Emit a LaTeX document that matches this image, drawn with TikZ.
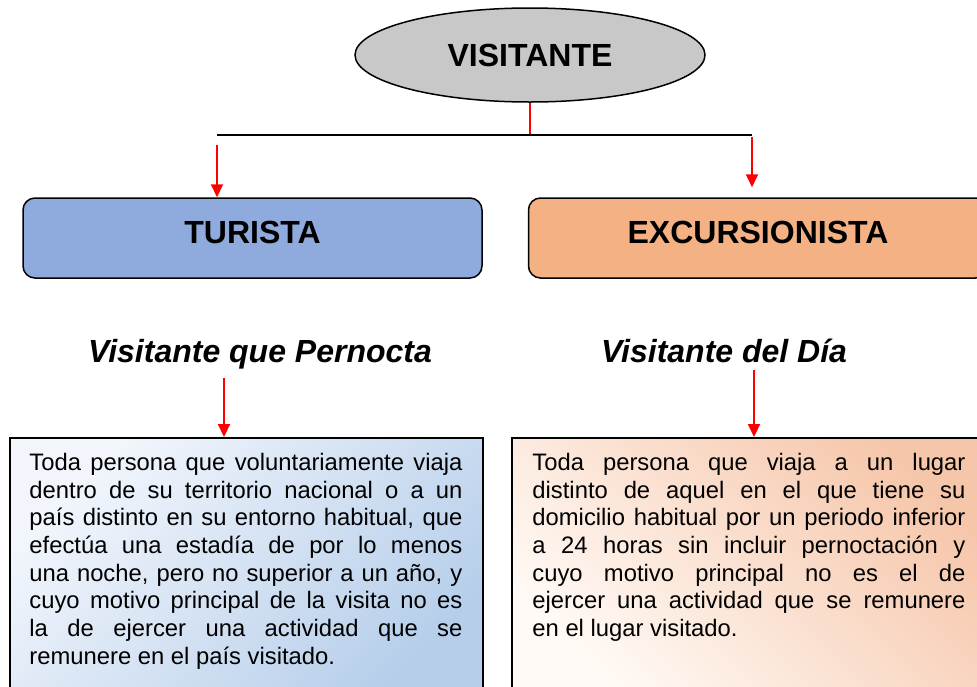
\documentclass[tikz,border=0pt]{standalone}
\usepackage{fontspec}
\setmainfont{Liberation Sans}
\usetikzlibrary{arrows.meta,shapes.geometric}
\definecolor{visgray}{RGB}{200,200,200}
\definecolor{turblue}{RGB}{143,170,220}
\definecolor{excorange}{RGB}{244,177,131}
\definecolor{turlight}{RGB}{242,246,252}
\definecolor{turdark}{RGB}{182,206,234}
\definecolor{exclight}{RGB}{255,250,246}
\definecolor{excdark}{RGB}{246,198,170}

\begin{document}
\begin{tikzpicture}[x=1pt,y=-1pt]
    \tikzstyle{title} = [font=\fontsize{32}{36}\selectfont\bfseries]
    \tikzstyle{subtitle} = [font=\fontsize{32}{36}\selectfont\bfseries\itshape, anchor=base]
    \tikzstyle{category} = [rectangle, rounded corners=12pt, draw, line width=1.5pt, minimum width=459pt, minimum height=80pt, text depth=12pt, title]
    \tikzstyle{descbox} = [rectangle, draw, line width=1.5pt, minimum height=262pt, anchor=north]
    \tikzstyle{desctext} = [text width=433pt, align=justify, inner sep=0pt, anchor=north west, font=\fontsize{23.8}{27.7}\selectfont]
    \tikzstyle{link} = [line width=2pt, red]
    \tikzstyle{arrow} = [link, -{Triangle[width=12pt,length=13pt]}]

    \useasboundingbox (0,0) rectangle (977,686);
    \clip (0,0) rectangle (977,686);

    \node[ellipse, draw, line width=1.5pt, fill=visgray, minimum width=350pt, minimum height=94pt, title] (visitante) at (530,55) {VISITANTE};

    \node[category, fill=turblue] (turista) at (252.5,238) {TURISTA};
    \node[category, fill=excorange, right of=turista, node distance=505.5pt] (excursionista) {EXCURSIONISTA};

    \node[subtitle] (pernocta) at (260,362) {Visitante que Pernocta};
    \node[subtitle] (dia) at (724,362) {Visitante del Día};

    \node[descbox, minimum width=473pt, top color=turlight, bottom color=turdark, shading angle=45] (turdef) at (246.5,437) {};
    \node[descbox, minimum width=476pt, top color=excdark, bottom color=exclight, shading angle=-45] (excdef) at (750,437) {};

    \node[desctext] (turtext) at ([xshift=20pt,yshift=-16pt]turdef.north west) {Toda persona que voluntariamente viaja\linebreak dentro de su territorio nacional o a un\linebreak país distinto en su entorno habitual, que\linebreak efectúa una estadía de por lo menos\linebreak una noche, pero no superior a un año, y\linebreak cuyo motivo principal de la visita no es\linebreak la de ejercer una actividad que se\linebreak remunere en el país visitado.};
    \node[desctext] (exctext) at ([xshift=21pt,yshift=-16pt]excdef.north west) {Toda persona que viaja a un lugar\linebreak distinto de aquel en el que tiene su\linebreak domicilio habitual por un periodo inferior\linebreak a 24 horas sin incluir pernoctación y\linebreak cuyo motivo principal no es el de\linebreak ejercer una actividad que se remunere\linebreak en el lugar visitado.};

    % branch points
    \coordinate (jl) at (217,135);
    \coordinate (jr) at (752,135);
    \coordinate (tl) at (217,145);
    \coordinate (tr) at (752,137);
    \coordinate (pa) at (224,378);
    \coordinate (da) at (754,370);

    \draw[link] (visitante.south) -- (visitante.south |- jl);
    \draw[line width=2pt] (jl) -- (jr);
    \draw[arrow] (tl) -- (tl |- turista.north);
    \draw[arrow, shorten >=10pt] (tr) -- (tr |- excursionista.north);
    \draw[arrow] (pa) -- (pa |- turdef.north);
    \draw[arrow] (da) -- (da |- excdef.north);
\end{tikzpicture}
\end{document}
